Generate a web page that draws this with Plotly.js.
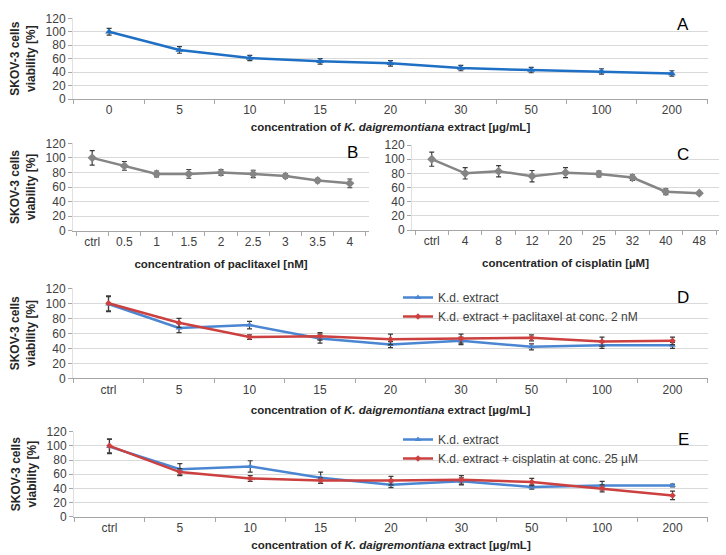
<!DOCTYPE html>
<html>
<head>
<meta charset="utf-8">
<script src="https://cdn.plot.ly/plotly-3.0.1.min.js"></script>
<style>
  body { margin: 0; background: #fff; }
  #graph { width: 726px; height: 555px; }
</style>
</head>
<body>
<div id="graph"></div>
<script>
// SKOV-3 viability panels A-E
var W = 726, H = 555;

// categories
var extractConc = ["0", "5", "10", "15", "20", "30", "50", "100", "200"];
var paclitaxelConc = ["ctrl", "0.5", "1", "1.5", "2", "2.5", "3", "3.5", "4"];
var cisplatinConc = ["ctrl", "4", "8", "12", "20", "25", "32", "40", "48"];
var comboConc = ["ctrl", "5", "10", "15", "20", "30", "50", "100", "200"];
var yTicks = [0, 20, 40, 60, 80, 100, 120];

// panel A
var extractA = [100, 73, 61, 56, 53, 46, 43, 41, 38];
var extractAErr = [5, 5, 4, 4, 4, 4, 4, 4, 4];
// panel B
var paclitaxelB = [100, 89, 78, 78, 80, 78, 75, 69, 65];
var paclitaxelBErr = [10, 6, 4, 6, 4, 5, 3, 3, 6];
// panel C
var cisplatinC = [100, 80, 83, 76, 81, 79, 74, 54, 52];
var cisplatinCErr = [10, 8, 8, 8, 7, 4, 4, 4, 2];
// panel D
var extractD = [99, 67, 71, 53, 45, 50, 42, 44, 44];
var extractDErr = [10, 6, 5, 6, 4, 5, 4, 4, 4];
var extractPacD = [100, 74, 55, 56, 52, 53, 54, 49, 50];
var extractPacDErr = [10, 6, 3, 5, 7, 6, 4, 6, 5];
// panel E
var extractE = [99, 67, 71, 55, 45, 50, 42, 44, 44];
var extractEErr = [10, 8, 8, 8, 4, 5, 3, 6, 2];
var extractCisE = [100, 63, 54, 51, 51, 52, 49, 40, 30];
var extractCisEErr = [10, 5, 4, 4, 6, 6, 5, 5, 6];

var seriesNames = ["K.d. extract",
                   "K.d. extract + paclitaxel at conc. 2 nM",
                   "K.d. extract + cisplatin at conc. 25 µM"];

var blueA = "#1f70c4", blue = "#4a86d2", red = "#cc4040", gray = "#858585";
var tickColor = "#404040", gridColor = "#d9d9d9", axisColor = "#a6a6a6";
var tickFont = {family: "Liberation Sans, Arial, sans-serif", size: 12, color: tickColor};
var titleFont = {family: "Liberation Sans, Arial, sans-serif", size: 11.5, color: "#262626"};
var yTitle = "<b>SKOV-3 cells<br>viability [%]</b>";

function px(x) { return x / W; }
function py(y) { return 1 - y / H; }

function makeTrace(x, y, err, name, color, symbol, msize, xa, ya, legend) {
    var t = {
        x: x, y: y,
        xaxis: xa, yaxis: ya,
        type: "scatter", mode: "lines+markers",
        name: name,
        line: {color: color, width: 2.5},
        marker: {color: color, symbol: symbol, size: msize},
        error_y: {type: "data", array: err, visible: true, color: "#3a3a3a", thickness: 1.2, width: 2.5},
        showlegend: legend ? true : false,
        cliponaxis: false
    };
    if (legend) t.legend = legend;
    return t;
}

function xAxis(left, right, title, anchor, standoff) {
    return {
        domain: [px(left), px(right)],
        anchor: anchor,
        type: "category",
        showgrid: false,
        showline: true, linecolor: axisColor, linewidth: 1,
        ticks: "outside", tickson: "boundaries", ticklen: 4, tickcolor: axisColor,
        tickfont: tickFont,
        title: {text: title, font: titleFont, standoff: standoff},
        fixedrange: true
    };
}

function yAxis(top, bottom, anchor, title) {
    return {
        domain: [py(bottom), py(top)],
        anchor: anchor,
        range: [0, 120],
        tickvals: yTicks,
        showgrid: true, gridcolor: gridColor, gridwidth: 1,
        zeroline: false,
        showline: true, linecolor: "#e0e0e0",
        ticks: "outside", ticklen: 4, tickcolor: axisColor,
        tickfont: tickFont,
        title: {text: title,
                font: {family: "Liberation Sans, Arial, sans-serif", size: 12, color: "#262626"},
                standoff: 7},
        fixedrange: true
    };
}

function panelLetter(text, x, y) {
    return {text: text, x: px(x), y: py(y), xref: "paper", yref: "paper",
            showarrow: false, xanchor: "center", yanchor: "middle",
            font: {family: "Liberation Sans, Arial, sans-serif", size: 17, color: "#000"}};
}

var extractTitle = "<b>concentration of <i>K. daigremontiana</i> extract [µg/mL]</b>";

var dataArray = [
    makeTrace(extractConc, extractA, extractAErr, "K.d. extract", blueA, "triangle-up", 7, "x", "y"),
    makeTrace(paclitaxelConc, paclitaxelB, paclitaxelBErr, "paclitaxel", gray, "diamond", 7, "x2", "y2"),
    makeTrace(cisplatinConc, cisplatinC, cisplatinCErr, "cisplatin", gray, "diamond", 7, "x3", "y3"),
    makeTrace(comboConc, extractD, extractDErr, seriesNames[0], blue, "triangle-up", 6, "x4", "y4", "legend"),
    makeTrace(comboConc, extractPacD, extractPacDErr, seriesNames[1], red, "diamond", 5, "x4", "y4", "legend"),
    makeTrace(comboConc, extractE, extractEErr, seriesNames[0], blue, "triangle-up", 6, "x5", "y5", "legend2"),
    makeTrace(comboConc, extractCisE, extractCisEErr, seriesNames[2], red, "diamond", 5, "x5", "y5", "legend2")
];

var legendStyle = {
    font: {family: "Liberation Sans, Arial, sans-serif", size: 12, color: tickColor},
    bgcolor: "rgba(0,0,0,0)", borderwidth: 0,
    xanchor: "left", yanchor: "top", itemwidth: 30, tracegroupgap: 0
};

var layout = {
    width: W, height: H,
    margin: {l: 0, r: 0, t: 0, b: 0},
    paper_bgcolor: "#fff", plot_bgcolor: "#fff",
    showlegend: true,
    xaxis: xAxis(73, 708, extractTitle, "y", 6),
    yaxis: yAxis(18.3, 99, "x", yTitle),
    xaxis2: xAxis(73, 369, "<b>concentration of paclitaxel [nM]</b>", "y2", 11),
    yaxis2: yAxis(143.3, 230.7, "x2", yTitle),
    xaxis3: xAxis(412, 719, "<b>concentration of cisplatin [µM]</b>", "y3", 11),
    yaxis3: yAxis(145, 230, "x3", ""),
    xaxis4: xAxis(73, 708, extractTitle, "y4", 10),
    yaxis4: yAxis(288.3, 378.3, "x4", yTitle),
    xaxis5: xAxis(74, 708, extractTitle, "y5", 6),
    yaxis5: yAxis(431.7, 516.7, "x5", yTitle),
    legend: Object.assign({x: px(398), y: py(283)}, legendStyle),
    legend2: Object.assign({x: px(398), y: py(425)}, legendStyle),
    annotations: [
        panelLetter("A", 683, 24),
        panelLetter("B", 352, 152),
        panelLetter("C", 683, 154),
        panelLetter("D", 683, 297),
        panelLetter("E", 683, 439)
    ]
};

Plotly.newPlot(document.getElementById("graph"), dataArray, layout, {displayModeBar: false, staticPlot: true});
</script>
</body>
</html>
